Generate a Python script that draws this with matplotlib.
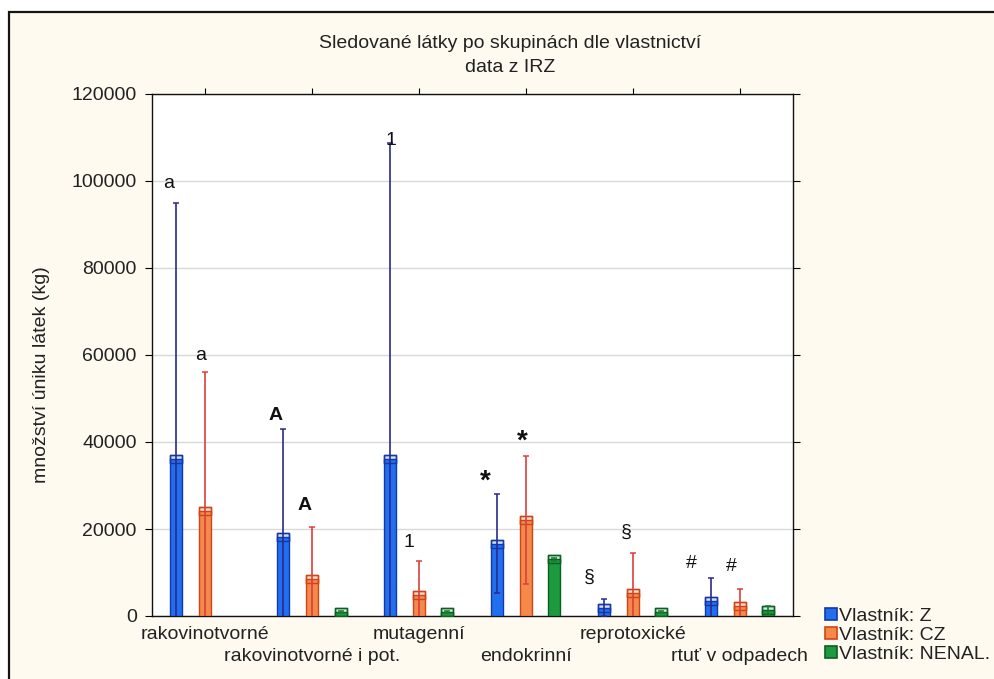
import numpy as np
import matplotlib
matplotlib.use("Agg")
import matplotlib.pyplot as plt
from matplotlib.patches import Rectangle, Patch
from matplotlib.path import Path

plt.rcParams['font.family'] = ['Liberation Sans', 'DejaVu Sans']

# ---- data -------------------------------------------------------------
categories = ["rakovinotvorné", "rakovinotvorné i pot.", "mutagenní",
              "endokrinní", "reprotoxické", "rtuť v odpadech"]
series_names = ["Vlastník: Z", "Vlastník: CZ", "Vlastník: NENAL."]

mean_z = [36000, 18200, 36000, 16600, 1900, 3500]
err_z = [59000, 24700, 72800, 11400, 2000, 5200]
mean_cz = [24200, 8400, 4800, 22000, 5200, 2200]
err_cz = [32000, 12000, 7800, 14700, 9200, 3900]
mean_nenal = [np.nan, 900, 900, 13000, 900, 1400]
err_nenal = [np.nan, 300, 300, 400, 300, 900]

y_ticks = [0, 20000, 40000, 60000, 80000, 100000, 120000]

# significance marks: (category index, series index, text, y position)
marks = [
    (0, 0, "a", 99500), (0, 1, "a", 59800),
    (1, 0, "A", 46200), (1, 1, "A", 25500),
    (2, 0, "1", 109300), (2, 1, "1", 16800),
    (3, 0, "*", 31000), (3, 1, "*", 40000),
    (4, 0, "§", 9000), (4, 1, "§", 19300),
    (5, 0, "#", 12000), (5, 1, "#", 11300),
]

# ---- styling ----------------------------------------------------------
means = [mean_z, mean_cz, mean_nenal]
errs = [err_z, err_cz, err_nenal]
offsets = [-0.272, 0.0, 0.265]
fills = ["#1f6fee", "#f4894a", "#1b9a3e"]
edges = ["#1438a8", "#cf4418", "#0d5e24"]
lights = ["#cfe0ff", "#fde0cc", "#cdebd4"]
err_colors = ["#2a2a8e", "#d8403c", "#187a30"]
mark_dx = {(0, 0): -8, (0, 1): -5, (1, 0): -8, (1, 1): -8, (2, 0): 1,
           (2, 1): -10, (3, 0): -12, (3, 1): -4, (4, 0): -14, (4, 1): -6,
           (5, 0): -19, (5, 1): -8}

W, H = 995, 679
fig = plt.figure(figsize=(W / 100, H / 100), dpi=100, facecolor="white")

# cream panel with a dark frame
fig.patches.append(Rectangle((9 / W, -0.05), 1.2, 1 - 12 / H + 0.05,
                             transform=fig.transFigure, facecolor="#fffaef",
                             edgecolor="#141414", lw=1.6, zorder=-10))

ax = fig.add_axes([152 / W, 1 - 616 / H, (793 - 152) / W, (616 - 94) / H])
ax.set_facecolor("white")

rect_marker = Path([(-1, -0.7), (1, -0.7), (1, 0.7), (-1, 0.7), (-1, -0.7)],
                   [Path.MOVETO, Path.LINETO, Path.LINETO, Path.LINETO, Path.CLOSEPOLY])

x0 = np.arange(len(categories))
for j in range(3):
    x = x0 + offsets[j]
    m = np.array(means[j], dtype=float)
    e = np.array(errs[j], dtype=float)
    # light box behind the bar top
    ax.plot(x, m, linestyle="none", marker=rect_marker, markersize=8.8,
            markerfacecolor=lights[j], markeredgecolor=edges[j], mew=1.0, zorder=2.5)
    ax.bar(x, m, width=0.112, color=fills[j], edgecolor=edges[j], lw=1.0, zorder=3)
    ax.plot(x, m, linestyle="none", marker=rect_marker, markersize=8.8,
            markerfacecolor="none", markeredgecolor=edges[j], mew=1.0, zorder=4)
    ax.errorbar(x, m, yerr=e, fmt="none", ecolor=err_colors[j], elinewidth=1.2,
                capsize=2.5, capthick=1.1, zorder=5)

for (ci, sj, txt, yv) in marks:
    kw = dict(fontsize=14, color="#111111")
    if txt == "A":
        kw.update(fontweight="bold")
    if txt == "*":
        kw.update(fontweight="bold", fontsize=20)
    ax.annotate(txt, xy=(ci + offsets[sj], yv), xytext=(mark_dx[(ci, sj)] * 0.72, 0),
                textcoords="offset points", ha="center", va="center", zorder=6, **kw)

ax.set_xlim(-0.5, len(categories) - 0.5)
ax.set_ylim(0, 120000)
ax.set_yticks(y_ticks)
ax.set_yticklabels([str(v) for v in y_ticks], fontsize=14, color="#222222")
ax.yaxis.grid(True, color="#d9d9d9", lw=1.0, zorder=0)
ax.set_axisbelow(True)

# category names on two staggered rows
ax.set_xticks(x0[::2])
ax.set_xticklabels(categories[::2], fontsize=14, color="#222222")
ax.set_xticks(x0[1::2], minor=True)
ax.set_xticklabels(categories[1::2], minor=True, fontsize=14, color="#222222")
ax.tick_params(axis="x", which="major", bottom=False, top=True, direction="out",
               length=4, pad=3.5, labelbottom=True, labeltop=False)
ax.tick_params(axis="x", which="minor", bottom=False, top=True, direction="out",
               length=4, width=0.8, pad=19, labelbottom=True, labeltop=False)
ax.tick_params(axis="y", left=True, right=True, direction="out", length=5,
               pad=6, labelright=False)
for s in ax.spines.values():
    s.set_color("#111111")
    s.set_linewidth(1.0)

fig.text(510 / W, 1 - 43 / H, "Sledované látky po skupinách dle vlastnictví",
         ha="center", va="center", fontsize=14, color="#222222")
fig.text(510 / W, 1 - 68 / H, "data z IRZ", ha="center", va="center",
         fontsize=14, color="#222222")
fig.text(42 / W, 1 - 375 / H, "množství úniku látek (kg)", rotation=90,
         ha="center", va="center", fontsize=14, color="#222222")

handles = [Patch(facecolor=fills[j], edgecolor=edges[j], lw=1.2, label=series_names[j])
           for j in range(3)]
leg = fig.legend(handles=handles, loc="upper left",
                 bbox_to_anchor=(825 / W, 1 - 608 / H), frameon=False,
                 fontsize=14, handlelength=0.6, handleheight=0.6,
                 handletextpad=0.1, labelspacing=0.1, borderpad=0, borderaxespad=0)
for t in leg.get_texts():
    t.set_color("#222222")

fig.savefig("out.png", dpi=100, facecolor="white")
